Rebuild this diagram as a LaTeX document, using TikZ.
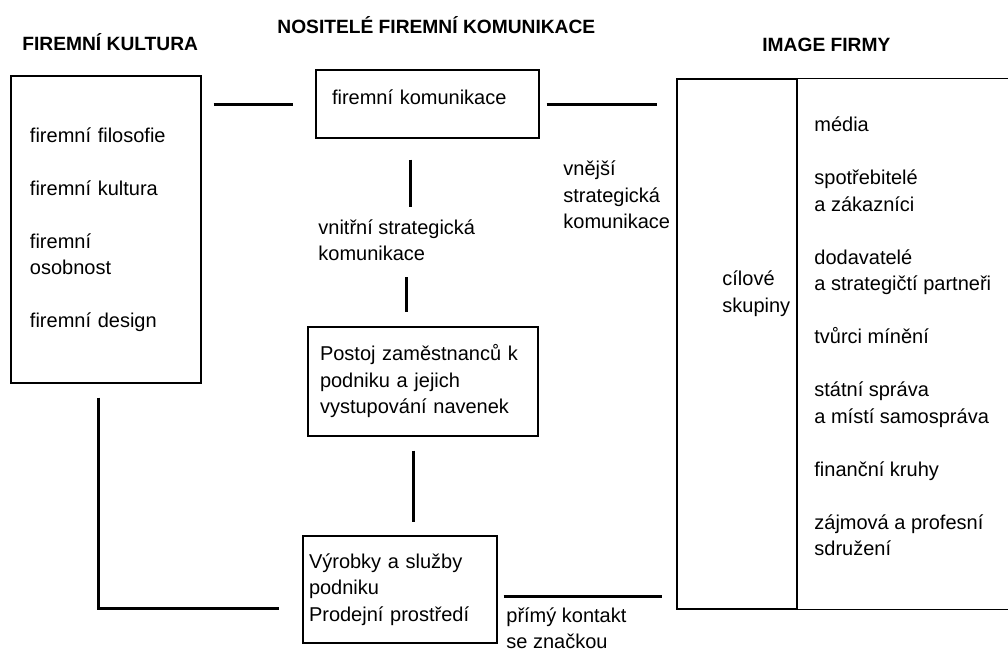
\documentclass[tikz,border=0pt]{standalone}
\usepackage{fontspec}
\setmainfont{Liberation Sans}
\usetikzlibrary{positioning}

\tikzset{
	box/.style={draw, line width=0.6pt, align=left, inner ysep=0pt},
	conn/.style={line width=1.5pt},
	title/.style={font=\bfseries\fontsize{9.6}{11}\selectfont, inner sep=0pt, anchor=west},
	txt/.style={inner sep=0pt, align=left, anchor=west},
}

\begin{document}
\begin{tikzpicture}[x=0.5pt, y=-0.5pt, font=\fontsize{10}{13.25}\selectfont]
\useasboundingbox (0,0) rectangle (1008,653);
\clip (0,0) rectangle (1008,653);

% nadpisy
\node[title] (tkult) at (22,42) {FIREMNÍ KULTURA};
\node[title] (tnos) at (277,25) {NOSITELÉ FIREMNÍ KOMUNIKACE};
\node[title] (timg) at (762,45) {IMAGE FIRMY};

% boxy
\node[box, minimum width=95pt, minimum height=153.5pt, text width=76pt, inner xsep=9.5pt] (kult) at (106,229.5)
	{firemní filosofie\\[13.25pt]firemní kultura\\[13.25pt]firemní\\osobnost\\[13.25pt]firemní design};
\node[box, minimum width=111.5pt, minimum height=34pt, text width=95.5pt, inner xsep=8pt, text depth=7pt] (kom) at (427.5,104)
	{firemní komunikace};
\node[box, minimum width=115pt, minimum height=54.5pt, text width=103pt, inner xsep=6pt] (postoj) at (423,381.5)
	{Postoj zaměstnanců k\\podniku a jejich\\vystupování navenek};
\node[box, minimum width=97pt, minimum height=53.5pt, text width=91pt, inner xsep=3pt] (vyrob) at (400,589.5)
	{Výrobky a služby\\podniku\\Prodejní prostředí};
\node[box, minimum width=60pt, minimum height=265pt] (cil) at (737,344) {};
\draw[line width=0.6pt] (cil.north east) -- ++(220,0);
\draw[line width=0.6pt] (cil.south east) -- ++(220,0);

% texty
\node[txt] (cilt) at (722,293.5) {cílové\\skupiny};
\node[txt] (grp) at (814,336.5) {média\\[13.25pt]spotřebitelé\\a zákazníci\\[13.25pt]dodavatelé\\a strategičtí partneři\\[13.25pt]tvůrci mínění\\[13.25pt]státní správa\\a místí samospráva\\[13.25pt]finanční kruhy\\[13.25pt]zájmová a profesní\\sdružení};
\node[txt] (vnitr) at (318,240) {vnitřní strategická\\komunikace};
\node[txt] (vnej) at (563,195) {vnější\\strategická\\komunikace};
\node[txt] (prim) at (506,628) {přímý kontakt\\se značkou};

% spojnice
\draw[conn, shorten <=6pt, shorten >=11pt] (kult.east |- kom.west) -- (kom.west);
\draw[conn, shorten <=3.5pt, shorten >=9.5pt] (kom.east) -- (kom.east -| cil.west);
\coordinate (v1) at ([xshift=7pt]vnitr.north);
\draw[conn, shorten <=10.5pt, shorten >=6pt] (v1 |- kom.south) -- (v1);
\coordinate (v2) at ([xshift=5pt]vnitr.south);
\draw[conn, shorten <=8pt, shorten >=7pt] (v2) -- (v2 |- postoj.north);
\coordinate (p1) at ([xshift=-5pt]postoj.south);
\draw[conn, shorten <=7pt, shorten >=6.5pt] (p1) -- (p1 |- vyrob.north);
\coordinate (k1) at ([xshift=-4pt]kult.south);
\coordinate (k2) at ([yshift=-9.25pt]vyrob.west);
\draw[conn, shorten <=7pt, shorten >=11.5pt] (k1) |- (k2);
\coordinate (v3) at ([yshift=-3.25pt]vyrob.east);
\draw[conn, shorten <=3pt, shorten >=7pt] (v3) -- (v3 -| cil.west);

\end{tikzpicture}
\end{document}
